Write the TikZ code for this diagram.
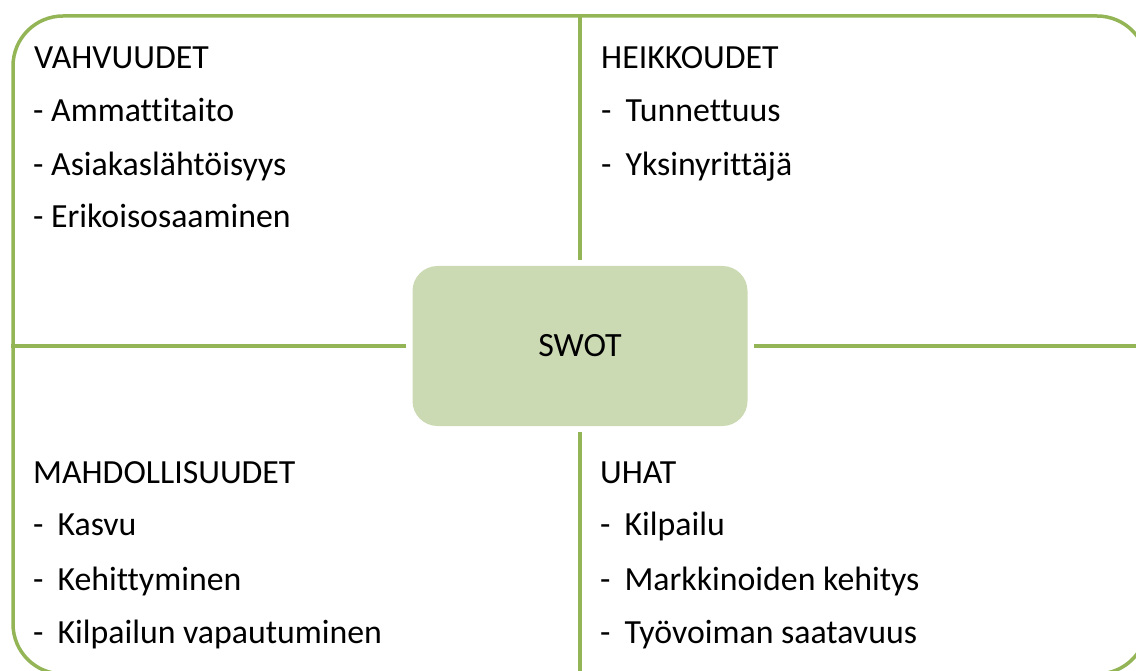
\documentclass[tikz,border=0pt]{standalone}
\usepackage{fontspec}
\setmainfont{Carlito}[Ligatures=NoCommon]
\usetikzlibrary{positioning}
\definecolor{swGreen}{HTML}{93B556}
\definecolor{swFill}{HTML}{CCDAB4}
\tikzset{
  frame/.style    = {draw=swGreen, line width=3.5pt, rounded corners=50pt,
                     minimum width=1134pt, minimum height=658pt},
  divider/.style  = {swGreen, line width=3.5pt},
  centrebox/.style= {fill=swFill, draw=none, rounded corners=25pt,
                     minimum width=335pt, minimum height=160pt,
                     font=\fontsize{34}{40}\selectfont},
  lbl/.style      = {anchor=base west, inner sep=0pt,
                     font=\fontsize{33.8}{40}\selectfont},
}
\newcommand{\tabdash}{-\hspace{14pt}}

\begin{document}
\begin{tikzpicture}[x=1pt,y=-1pt]
  \useasboundingbox (0,0) rectangle (1136,671);
  \node[frame] (frame) at (580,345) {};
  \node[centrebox] (swot) at (580,346) {SWOT};
  % dividers between the four fields
  \draw[divider, shorten <=6pt] (swot.north) -- (frame.north);
  \draw[divider, shorten <=6pt] (swot.south) -- (frame.south);
  \draw[divider, shorten <=6pt] (swot.west) -- (frame.west |- swot.west);
  \draw[divider, shorten <=6pt] (swot.east) -- (frame.east |- swot.east);
  % strengths
  \node[lbl] (s0) at (34,69)  {VAHVUUDET};
  \node[lbl] (s1) at (33,122) {- Ammattitaito};
  \node[lbl] (s2) at (33,176) {- Asiakaslähtöisyys};
  \node[lbl] (s3) at (33,228) {- Erikoisosaaminen};
  % weaknesses
  \node[lbl] (w0) at (601,69)  {HEIKKOUDET};
  \node[lbl] (w1) at (601,122) {\tabdash Tunnettuus};
  \node[lbl] (w2) at (601,176) {\tabdash Yksinyrittäjä};
  % opportunities
  \node[lbl] (o0) at (33,483) {MAHDOLLISUUDET};
  \node[lbl] (o1) at (33,535) {\tabdash Kasvu};
  \node[lbl] (o2) at (33,590) {\tabdash Kehittyminen};
  \node[lbl] (o3) at (33,643) {\tabdash Kilpailun vapautuminen};
  % threats
  \node[lbl] (t0) at (600,483) {UHAT};
  \node[lbl] (t1) at (600,535) {\tabdash Kilpailu};
  \node[lbl] (t2) at (600,590) {\tabdash Markkinoiden kehitys};
  \node[lbl] (t3) at (600,643) {\tabdash Työvoiman saatavuus};
\end{tikzpicture}
\end{document}
